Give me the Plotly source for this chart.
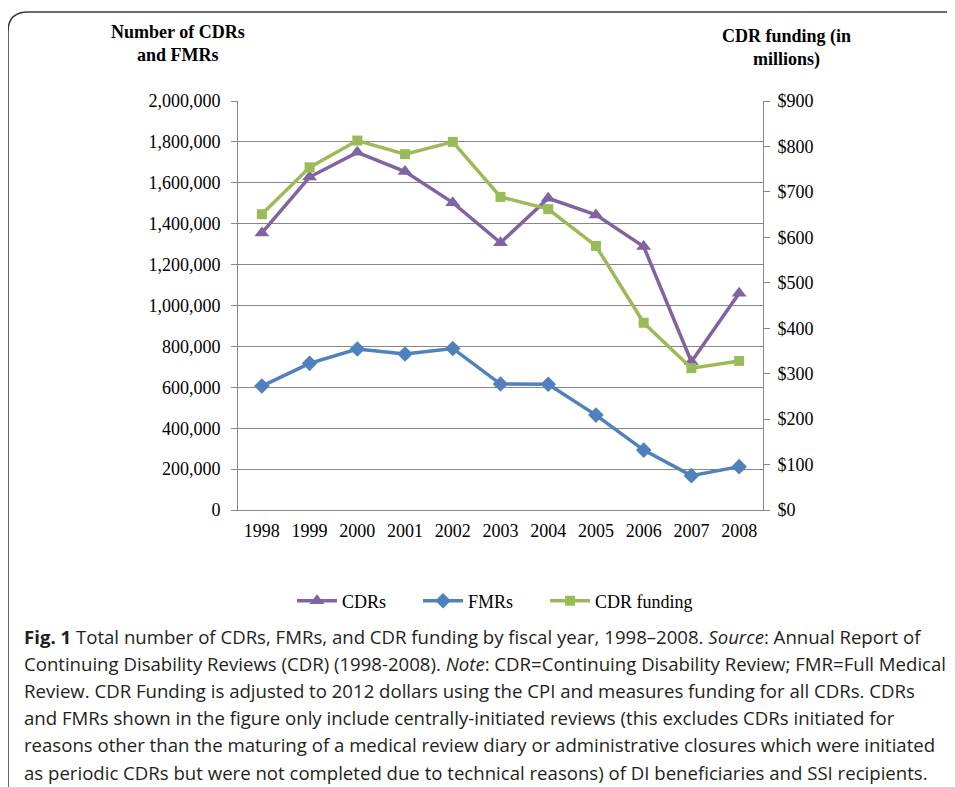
import plotly.graph_objects as go

years = ["1998", "1999", "2000", "2001", "2002", "2003", "2004", "2005", "2006", "2007", "2008"]
cdrs = [1355000, 1628000, 1749000, 1655000, 1503000, 1307000, 1524000, 1443000, 1288000, 725000, 1060000]
fmrs = [606000, 717000, 787000, 763000, 790000, 616000, 615000, 464000, 293000, 168000, 212000]
funding = [651, 754, 813, 783, 810, 689, 662, 581, 412, 312, 328]
series_names = ["CDRs", "FMRs", "CDR funding"]

caption_lines = [
    "<b>Fig. 1</b> Total number of CDRs, FMRs, and CDR funding by fiscal year, 1998–2008. <i>Source</i>: Annual Report of",
    "Continuing Disability Reviews (CDR) (1998-2008). <i>Note</i>: CDR=Continuing Disability Review; FMR=Full Medical",
    "Review. CDR Funding is adjusted to 2012 dollars using the CPI and measures funding for all CDRs. CDRs",
    "and FMRs shown in the figure only include centrally-initiated reviews (this excludes CDRs initiated for",
    "reasons other than the maturing of a medical review diary or administrative closures which were initiated",
    "as periodic CDRs but were not completed due to technical reasons) of DI beneficiaries and SSI recipients.",
]

OFF = 8  # page body margin offset
W, H = 955 - OFF, 787 - OFF
L, R, T, B = 238 - OFF, 763 - OFF, 101 - OFF, 510 - OFF

def px(x):
    return (x - OFF - L) / (R - L)

def py(y):
    return (B - (y - OFF)) / (B - T)

serif = "Liberation Serif, Times New Roman, serif"
FS = 18
PAD = "\u00a0" * 6

fig = go.Figure()
fig.add_trace(go.Scatter(x=years, y=cdrs, name=series_names[0] + PAD, mode="lines+markers",
                         line=dict(color="#8064A2", width=3.5),
                         marker=dict(symbol="triangle-up", size=13, color="#8064A2")))
fig.add_trace(go.Scatter(x=years, y=fmrs, name=series_names[1] + PAD, mode="lines+markers",
                         line=dict(color="#4F81BD", width=3.5),
                         marker=dict(symbol="diamond", size=12, color="#4F81BD")))
fig.add_trace(go.Scatter(x=years, y=funding, name=series_names[2], mode="lines+markers",
                         yaxis="y2",
                         line=dict(color="#9BBB59", width=3.5),
                         marker=dict(symbol="square", size=10, color="#9BBB59")))

annotations = [
    dict(text="<b>Number of CDRs<br>and FMRs</b>", x=px(178), y=py(44), xref="paper", yref="paper",
         showarrow=False, font=dict(family=serif, size=FS, color="black"), align="center",
         xanchor="center", yanchor="middle"),
    dict(text="<b>CDR funding (in<br>millions)</b>", x=px(786), y=py(48), xref="paper", yref="paper",
         showarrow=False, font=dict(family=serif, size=FS, color="black"), align="center",
         xanchor="center", yanchor="middle"),
]
for i, line in enumerate(caption_lines):
    annotations.append(dict(text=line, x=px(22), y=py(636 + i * 27.2), xref="paper", yref="paper",
                            showarrow=False, xanchor="left", yanchor="middle", align="left",
                            font=dict(family="Open Sans, sans-serif", size=18.6, color="#231f20")))

shapes = [
    dict(type="path", xref="paper", yref="paper",
         path=f"M {px(8)},{py(800)} L {px(8)},{py(32)} Q {px(8)},{py(12)} {px(28)},{py(12)} L {px(970)},{py(12)}",
         line=dict(color="#3a3a3a", width=1.5)),
]

fig.update_layout(
    width=W, height=H,
    margin=dict(l=L, r=W - R, t=T, b=H - B),
    paper_bgcolor="white", plot_bgcolor="white",
    showlegend=True,
    legend=dict(orientation="h", x=px(495), y=py(601), xanchor="center", yanchor="middle",
                font=dict(family=serif, size=FS, color="black"), itemwidth=40),
    xaxis=dict(type="category", range=[-0.5, 10.5], showline=True, linecolor="#878787", linewidth=1,
               ticks="", showgrid=False, tickfont=dict(family=serif, size=FS, color="black"),
               ticklabelstandoff=4, mirror=False, zeroline=False),
    yaxis=dict(range=[0, 2000000], dtick=200000, tickformat=",", showline=True, linecolor="#878787",
               linewidth=1, ticks="outside", ticklen=6, tickcolor="#878787", gridcolor="#878787",
               gridwidth=1, zeroline=False, ticklabelstandoff=7,
               tickfont=dict(family=serif, size=FS, color="black")),
    yaxis2=dict(range=[0, 900], dtick=100, tickprefix="$", overlaying="y", side="right",
                showline=True, linecolor="#878787", linewidth=1, ticks="outside", ticklen=6,
                tickcolor="#878787", showgrid=False, zeroline=False, ticklabelstandoff=4,
                tickfont=dict(family=serif, size=FS, color="black")),
    annotations=annotations,
    shapes=shapes,
)

fig.write_html("out.html")
